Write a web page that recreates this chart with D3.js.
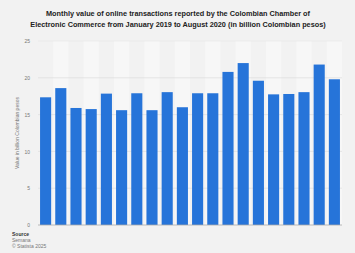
<!DOCTYPE html>
<html lang="en">
<head>
    <meta charset="UTF-8">
    <title>Online transactions Colombia</title>
    <script src="https://d3js.org/d3.v7.min.js"></script>
    <style>
        body { margin: 0; background: #f2f2f2; }
        svg { display: block; font-family: "Liberation Sans", Arial, sans-serif; }
    </style>
</head>
<body>
    <script>
        const w = 355;
        const h = 253;

        const months = ["Jan 2019", "Feb 2019", "Mar 2019", "Apr 2019", "May 2019", "Jun 2019",
            "Jul 2019", "Aug 2019", "Sep 2019", "Oct 2019", "Nov 2019", "Dec 2019",
            "Jan 2020", "Feb 2020", "Mar 2020", "Apr 2020", "May 2020", "Jun 2020",
            "Jul 2020", "Aug 2020"];
        const values = [17.35, 18.6, 15.9, 15.75, 17.85, 15.6, 17.9, 15.6, 18.05, 16.0,
            17.9, 17.9, 20.8, 22.0, 19.6, 17.75, 17.8, 18.05, 21.8, 19.8];
        const yTicks = [0, 5, 10, 15, 20, 25];

        const svg = d3.select("body")
            .append("svg")
            .attr("width", w)
            .attr("height", h);

        svg.append("rect").attr("width", w).attr("height", h).attr("fill", "#f2f2f2");

        // title
        const title = svg.append("text")
            .attr("text-anchor", "middle")
            .attr("font-size", 7.3)
            .attr("font-weight", "bold")
            .attr("fill", "#222");
        title.append("tspan").attr("x", 178).attr("y", 16)
            .text("Monthly value of online transactions reported by the Colombian Chamber of");
        title.append("tspan").attr("x", 178).attr("y", 27)
            .text("Electronic Commerce from January 2019 to August 2020 (in billion Colombian pesos)");

        const x = d3.scaleBand()
            .domain(months)
            .range([38, 342])
            .paddingInner(0.27)
            .paddingOuter(0.135);

        const y = d3.scaleLinear()
            .domain([0, 25])
            .range([225, 41]);

        // alternating column bands
        const step = x.step();
        svg.selectAll(".band")
            .data(months.filter((d, i) => i % 2 === 1))
            .enter()
            .append("rect")
            .attr("x", d => x(d) - (step - x.bandwidth()) / 2)
            .attr("y", y(25))
            .attr("width", step)
            .attr("height", y(0) - y(25))
            .attr("fill", "#f7f7f7");

        // gridlines
        svg.selectAll(".grid")
            .data(yTicks.slice(1))
            .enter()
            .append("line")
            .attr("x1", 38)
            .attr("x2", 342)
            .attr("y1", d => y(d))
            .attr("y2", d => y(d))
            .attr("stroke", d => d === 25 ? "#e8e8e8" : "#dedede")
            .attr("stroke-width", 0.7);

        // y axis labels
        const yAxis = d3.axisLeft(y).tickValues(yTicks).tickSize(0).tickPadding(0);
        const gy = svg.append("g")
            .attr("transform", "translate(30,0)")
            .call(yAxis);
        gy.select(".domain").remove();
        gy.selectAll("text")
            .attr("font-size", 5)
            .attr("fill", "#777")
            .attr("font-family", "Liberation Sans, Arial, sans-serif");

        svg.append("text")
            .attr("transform", "translate(19,133) rotate(-90)")
            .attr("text-anchor", "middle")
            .attr("font-size", 5)
            .attr("fill", "#777")
            .text("Value in billion Colombian pesos");

        // bars
        svg.selectAll(".bar")
            .data(values)
            .enter()
            .append("rect")
            .attr("x", (d, i) => x(months[i]))
            .attr("y", d => y(d))
            .attr("width", x.bandwidth())
            .attr("height", d => y(0) - y(d))
            .attr("fill", "#2674d9");

        // baseline
        svg.append("line")
            .attr("x1", 38).attr("x2", 342)
            .attr("y1", y(0)).attr("y2", y(0))
            .attr("stroke", "#aaa")
            .attr("stroke-width", 0.8);

        // source
        svg.append("text").attr("x", 12).attr("y", 236)
            .attr("font-size", 5).attr("font-weight", "bold").attr("fill", "#333")
            .text("Source");
        svg.append("text").attr("x", 12).attr("y", 242)
            .attr("font-size", 5).attr("fill", "#777")
            .text("Semana");
        svg.append("text").attr("x", 12).attr("y", 248)
            .attr("font-size", 5).attr("fill", "#777")
            .text("© Statista 2025");
    </script>
</body>
</html>
